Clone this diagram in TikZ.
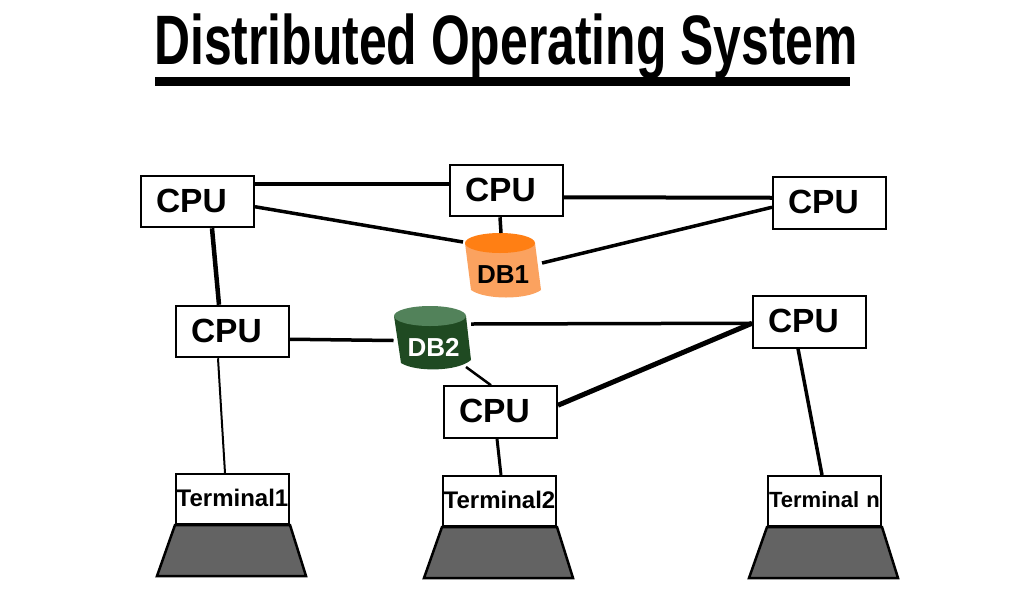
\documentclass[tikz,border=0pt]{standalone}
\usepackage{fontspec}
\setmainfont{Liberation Sans}[BoldFont={Liberation Sans Bold}]
\newfontfamily\titlefont{Liberation Sans Bold}[FakeStretch=0.712]
\usetikzlibrary{calc}
\definecolor{dbonetop}{HTML}{FF7F14}
\definecolor{dbonebody}{HTML}{FBA25F}
\definecolor{dbtwotop}{HTML}{52825A}
\definecolor{dbtwobody}{HTML}{1F4A22}
\definecolor{screenbase}{HTML}{636363}
\tikzset{
  cpubox/.style={draw=black,line width=2pt,fill=white,inner xsep=15pt,inner ysep=0pt,
    text width=83pt,minimum height=51.5pt,align=left,font=\bfseries\fontsize{33.5}{33.5}\selectfont},
  termbox/.style={draw=black,line width=2pt,fill=white,inner xsep=0.5pt,inner ysep=0pt,
    text width=112pt,minimum height=50pt,align=center,font=\bfseries\fontsize{24}{24}\selectfont},
  base/.style={draw=black,line width=2.5pt,fill=screenbase,line join=miter},
  dblabel/.style={inner sep=0pt,font=\bfseries\fontsize{26}{26}\selectfont},
  link/.style={draw=black,line width=3.5pt}
}
\begin{document}
\begin{tikzpicture}[x=1pt,y=-1pt]
\useasboundingbox (0,0) rectangle (1024,600);
\fill[white] (0,0) rectangle (1024,600);
% title
\node[anchor=base,inner sep=0pt,font=\titlefont\fontsize{70}{70}\selectfont] (title) at (506,64.5) {Distributed Operating System};
\fill[black] (155,77) rectangle (850,86);
% boxes
\node[cpubox] (c1) at (197.5,201.5) {\raisebox{1.5pt}{CPU}};
\node[cpubox] (c2) at (506.5,190.5) {\raisebox{1pt}{CPU}};
\node[cpubox] (c3) at (829.5,203) {\raisebox{1.5pt}{CPU}};
\node[cpubox] (c4) at (232.5,331.5) {\raisebox{1pt}{CPU}};
\node[cpubox] (c5) at (809.5,322) {\raisebox{1.5pt}{CPU}};
\node[cpubox] (c6) at (500.5,412) {\raisebox{1.5pt}{CPU}};
\node[termbox] (t1) at (232.5,499) {\raisebox{3pt}{Terminal1}};
\node[termbox] (t2) at (499.5,501) {\raisebox{3pt}{Terminal2}};
\node[termbox,font=\bfseries\fontsize{22}{22}\selectfont] (t3) at (824.5,501) {\raisebox{3pt}{Terminal n}};
% terminal bases
\draw[base] (t1.south west) -- (t1.south east) -- ++(16,51) -- ++(-149,0) -- cycle;
\draw[base] (t2.south west) -- (t2.south east) -- ++(16,51) -- ++(-149,0) -- cycle;
\draw[base] (t3.south west) -- (t3.south east) -- ++(16,51) -- ++(-149,0) -- cycle;
% cylinders
\fill[dbonebody] (465,243) -- (471,290) .. controls (485,300) and (527,300) .. (541,290) -- (535,243) -- cycle;
\fill[dbonetop] (500,243) ellipse [x radius=35,y radius=10];
\node[dblabel,text=black] (db1) at (503,275) {DB1};
\fill[dbtwobody] (394,316) -- (401,363) .. controls (415,372) and (457,372) .. (471,360) -- (466,316) -- cycle;
\fill[dbtwotop] (430,316) ellipse [x radius=36,y radius=10];
\node[dblabel,text=white] (db2) at (433.5,347) {DB2};
% links
\draw[link,line width=4pt] ([yshift=-9.5pt]c1.north east) -- ([yshift=-20.5pt]c2.north west);
\draw[link,line width=4pt] ([yshift=-33.5pt]c2.north east) -- ([yshift=-21.5pt]c3.north west);
\draw[link] ([yshift=-32pt]c1.north east) -- ($(db1)+(-40,-33)$);
\draw[link] ($(c2.south)+(-6.5,0)$) -- ($(db1)+(-2,-42)$);
\draw[link] ($(db1)+(39,-12)$) -- ([yshift=-31pt]c3.north west);
\draw[link,line width=4.5pt] ($(c1.south)+(14.5,0)$) -- ($(c4.north)+(-13.5,0)$);
\draw[link] ([yshift=-34.5pt]c4.north east) -- ($(db2)+(-40,-6.5)$);
\draw[link] ($(db2)+(37.5,-23)$) -- ([yshift=-28pt]c5.north west);
\draw[link,line width=2.5pt] ($(db2)+(32.5,20)$) -- ($(c6.north)+(-9.5,0)$);
\draw[link,line width=5pt] ([yshift=-20pt]c6.north east) -- ([yshift=-28pt]c5.north west);
\draw[link,line width=2pt] ($(c4.south)+(-14.5,0)$) -- ($(t1.north)+(-7.5,0)$);
\draw[link,line width=3pt] ($(c6.south)+(-3.5,0)$) -- ($(t2.north)+(1.5,0)$);
\draw[link] ($(c5.south)+(-11.5,0)$) -- ($(t3.north)+(-2.5,0)$);
\end{tikzpicture}
\end{document}
